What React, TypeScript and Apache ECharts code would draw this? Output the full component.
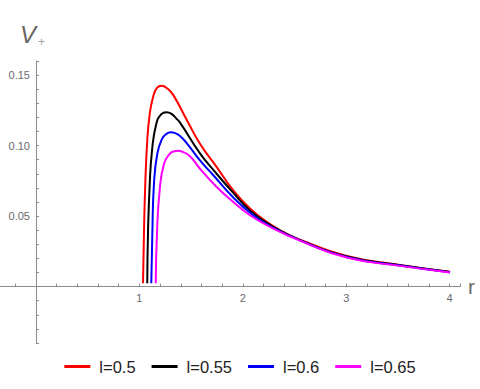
import React, { useEffect, useRef } from "react";
import * as echarts from "echarts";

const SERIES_NAMES = ["l=0.5", "l=0.55", "l=0.6", "l=0.65"];
const SERIES_COLORS = ["#ff0000", "#000000", "#0000ff", "#ff00ff"];

const R_05 = [1.035, 1.044, 1.057, 1.076, 1.100, 1.133, 1.17, 1.216, 1.27, 1.328, 1.457, 1.586, 1.748, 1.908, 2.070, 2.231, 2.392, 2.553, 3.005, 3.520, 4.004];
const V_05 = [0.0024, 0.0377, 0.0730, 0.1036, 0.1225, 0.1347, 0.1410, 0.1424, 0.1405, 0.1358, 0.1184, 0.1013, 0.0847, 0.0683, 0.0554, 0.0459, 0.0388, 0.0333, 0.0217, 0.0154, 0.0106];

const R_055 = [1.076, 1.083, 1.100, 1.122, 1.163, 1.21, 1.262, 1.31, 1.357, 1.393, 1.586, 1.715, 1.908, 2.070, 2.231, 2.553, 3.005, 3.520, 4.004];
const V_055 = [0.0024, 0.0377, 0.0730, 0.0965, 0.1154, 0.1222, 0.1237, 0.1225, 0.1192, 0.1163, 0.0945, 0.0828, 0.0665, 0.0540, 0.0452, 0.0330, 0.0213, 0.0151, 0.0104];

const R_06 = [1.115, 1.125, 1.141, 1.173, 1.219, 1.26, 1.303, 1.34, 1.39, 1.457, 1.586, 1.715, 1.908, 2.070, 2.231, 2.553, 3.005, 3.520, 4.004];
const V_06 = [0.0024, 0.0377, 0.0730, 0.0942, 0.1048, 0.1082, 0.1095, 0.1090, 0.1070, 0.1018, 0.0895, 0.0790, 0.0632, 0.0524, 0.0443, 0.0328, 0.0210, 0.0149, 0.0102];

const R_065 = [1.158, 1.170, 1.196, 1.238, 1.293, 1.33, 1.375, 1.42, 1.489, 1.586, 1.748, 1.908, 2.070, 2.231, 2.553, 3.005, 3.520, 4.004];
const V_065 = [0.0024, 0.0377, 0.0683, 0.0871, 0.0942, 0.0958, 0.0963, 0.0955, 0.0925, 0.0836, 0.0706, 0.0600, 0.0506, 0.0436, 0.0326, 0.0206, 0.0147, 0.0100];

const X_LABELS = [1, 2, 3, 4];
const Y_LABELS = [0.05, 0.1, 0.15];

const R_LIST = [R_05, R_055, R_06, R_065];
const V_LIST = [V_05, V_055, V_06, V_065];

const near = (v: number, list: number[]) => list.some((t) => Math.abs(v - t) < 1e-6);

export default function App() {
  const ref = useRef<HTMLDivElement>(null);
  useEffect(() => {
    document.body.style.margin = "0";
    if (!ref.current) return;
    const chart = echarts.init(ref.current, null, { renderer: "svg" });
    const axisColor = "#8c8c8c";
    const labelColor = "#666a70";
    const font = "'Liberation Sans', Arial, sans-serif";
    chart.setOption({
      animation: false,
      backgroundColor: "#ffffff",
      grid: [
        { left: -5.36, right: 20.06, top: 61, bottom: 46, containLabel: false, outerBoundsMode: "none" },
        { left: 36, right: 20.06, top: 61, bottom: 102.4, containLabel: false, outerBoundsMode: "none" },
      ],
      xAxis: [
        {
          type: "value",
          gridIndex: 0,
          min: -0.4,
          max: 4.1,
          interval: 0.2,
          name: "r",
          nameLocation: "end",
          nameGap: 8,
          nameTextStyle: { fontSize: 21, color: "#6a6a6a", fontFamily: font, verticalAlign: "middle" },
          axisLine: { show: true, onZero: true, lineStyle: { color: axisColor, width: 1 } },
          axisTick: { show: true, inside: true, length: 3, lineStyle: { color: axisColor } },
          axisLabel: { show: false },
          splitLine: { show: false },
        },
        {
          type: "value",
          gridIndex: 1,
          min: 0,
          max: 4.1,
          interval: 1,
          axisLine: { show: false, onZero: false },
          axisTick: { show: false },
          axisLabel: {
            color: labelColor,
            fontSize: 11,
            fontFamily: font,
            margin: 6,
            showMinLabel: true,
            showMaxLabel: true,
            hideOverlap: false,
            formatter: (v: number) => (near(v, X_LABELS) ? String(Math.round(v)) : ""),
          },
          splitLine: { show: false },
        },
      ],
      yAxis: [
        {
          type: "value",
          gridIndex: 0,
          min: -0.04,
          max: 0.16,
          interval: 0.01,
          axisLine: { show: true, onZero: true, lineStyle: { color: axisColor, width: 1 } },
          axisTick: { show: true, inside: true, length: 3, lineStyle: { color: axisColor } },
          axisLabel: { show: false },
          splitLine: { show: false },
        },
        {
          type: "value",
          gridIndex: 1,
          min: 0,
          max: 0.16,
          interval: 0.05,
          axisLine: { show: false, onZero: false },
          axisTick: { show: false },
          axisLabel: {
            color: labelColor,
            fontSize: 11,
            fontFamily: font,
            margin: 6,
            hideOverlap: false,
            formatter: (v: number) => (near(v, Y_LABELS) ? v.toFixed(2) : ""),
          },
          splitLine: { show: false },
        },
      ],
      legend: {
        data: SERIES_NAMES.map((n) => ({ name: n, icon: "rect" })),
        bottom: 9,
        left: "center",
        itemWidth: 26,
        itemHeight: 3,
        itemGap: 16,
        textStyle: { fontSize: 16.5, color: "#222222", fontFamily: font, padding: [0, 0, 0, 4] },
      },
      graphic: [
        {
          type: "text",
          left: 20,
          top: 22,
          style: { text: "V", fontSize: 24, fontStyle: "italic", fill: "#6b6560", fontFamily: font },
        },
        {
          type: "text",
          left: 38,
          top: 36,
          style: { text: "+", fontSize: 12, fill: "#a0a0a0", fontFamily: font },
        },
      ],
      series: SERIES_NAMES.map((name, i) => ({
        name,
        type: "line",
        xAxisIndex: 0,
        yAxisIndex: 0,
        data: R_LIST[i].map((r, j) => [r, V_LIST[i][j]]),
        showSymbol: false,
        symbol: "none",
        smooth: 0.5,
        color: SERIES_COLORS[i],
        lineStyle: { color: SERIES_COLORS[i], width: 2 },
      })),
    });
    return () => chart.dispose();
  }, []);
  return <div ref={ref} style={{ width: 480, height: 389 }} />;
}
